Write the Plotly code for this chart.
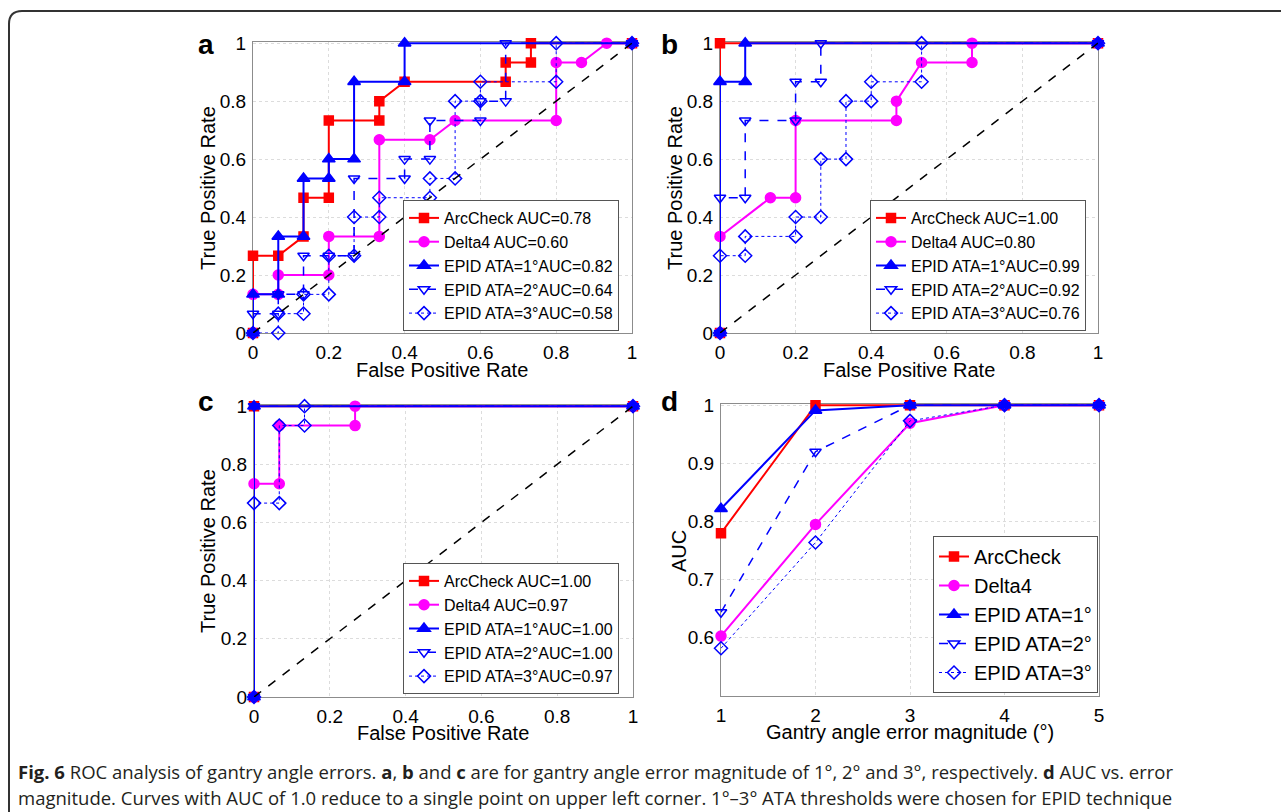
import plotly.graph_objects as go

W, H = 1281, 812

# ---------------- data ----------------
series_names = ["ArcCheck", "Delta4", "EPID ATA=1°", "EPID ATA=2°", "EPID ATA=3°"]

# Panel a (1° error) ROC points
a_arccheck_fpr = [0, 0, 0.0667, 0.1333, 0.1333, 0.2, 0.2, 0.3333, 0.3333, 0.4, 0.6667, 0.6667, 0.7333, 0.7333, 1]
a_arccheck_tpr = [0, 0.2667, 0.2667, 0.3333, 0.4667, 0.4667, 0.7333, 0.7333, 0.8, 0.8667, 0.8667, 0.9333, 0.9333, 1, 1]
a_delta4_fpr = [0, 0, 0.0667, 0.0667, 0.2, 0.2, 0.3333, 0.3333, 0.4667, 0.5333, 0.8, 0.8, 0.8667, 0.9333, 1]
a_delta4_tpr = [0, 0.1333, 0.1333, 0.2, 0.2, 0.3333, 0.3333, 0.6667, 0.6667, 0.7333, 0.7333, 0.9333, 0.9333, 1, 1]
a_epid1_fpr = [0, 0, 0.0667, 0.0667, 0.1333, 0.1333, 0.2, 0.2, 0.2667, 0.2667, 0.4, 0.4, 1]
a_epid1_tpr = [0, 0.1333, 0.1333, 0.3333, 0.3333, 0.5333, 0.5333, 0.6, 0.6, 0.8667, 0.8667, 1, 1]
a_epid2_fpr = [0, 0, 0.0667, 0.0667, 0.1333, 0.1333, 0.2, 0.2667, 0.2667, 0.4, 0.4, 0.4667, 0.4667, 0.6, 0.6, 0.6667, 0.6667, 1]
a_epid2_tpr = [0, 0.0667, 0.0667, 0.1333, 0.1333, 0.2667, 0.2667, 0.2667, 0.5333, 0.5333, 0.6, 0.6, 0.7333, 0.7333, 0.8, 0.8, 1, 1]
a_epid3_fpr = [0, 0.0667, 0.0667, 0.1333, 0.1333, 0.2, 0.2, 0.2667, 0.2667, 0.3333, 0.3333, 0.4667, 0.4667, 0.5333, 0.5333, 0.6, 0.6, 0.8, 0.8, 1]
a_epid3_tpr = [0, 0, 0.0667, 0.0667, 0.1333, 0.1333, 0.2667, 0.2667, 0.4, 0.4, 0.4667, 0.4667, 0.5333, 0.5333, 0.8, 0.8, 0.8667, 0.8667, 1, 1]
a_auc = ["0.78", "0.60", "0.82", "0.64", "0.58"]

# Panel b (2° error)
b_arccheck_fpr = [0, 0, 1]
b_arccheck_tpr = [0, 1, 1]
b_delta4_fpr = [0, 0, 0.1333, 0.2, 0.2, 0.4667, 0.4667, 0.5333, 0.6667, 0.6667, 1]
b_delta4_tpr = [0, 0.3333, 0.4667, 0.4667, 0.7333, 0.7333, 0.8, 0.9333, 0.9333, 1, 1]
b_epid1_fpr = [0, 0, 0.0667, 0.0667, 1]
b_epid1_tpr = [0, 0.8667, 0.8667, 1, 1]
b_epid2_fpr = [0, 0, 0.0667, 0.0667, 0.2, 0.2, 0.2667, 0.2667, 1]
b_epid2_tpr = [0, 0.4667, 0.4667, 0.7333, 0.7333, 0.8667, 0.8667, 1, 1]
b_epid3_fpr = [0, 0, 0.0667, 0.0667, 0.2, 0.2, 0.2667, 0.2667, 0.3333, 0.3333, 0.4, 0.4, 0.5333, 0.5333, 1]
b_epid3_tpr = [0, 0.2667, 0.2667, 0.3333, 0.3333, 0.4, 0.4, 0.6, 0.6, 0.8, 0.8, 0.8667, 0.8667, 1, 1]
b_auc = ["1.00", "0.80", "0.99", "0.92", "0.76"]

# Panel c (3° error)
c_arccheck_fpr = [0, 0, 1]
c_arccheck_tpr = [0, 1, 1]
c_delta4_fpr = [0, 0, 0.0667, 0.0667, 0.2667, 0.2667, 1]
c_delta4_tpr = [0, 0.7333, 0.7333, 0.9333, 0.9333, 1, 1]
c_epid1_fpr = [0, 0, 1]
c_epid1_tpr = [0, 1, 1]
c_epid2_fpr = [0, 0, 1]
c_epid2_tpr = [0, 1, 1]
c_epid3_fpr = [0, 0, 0.0667, 0.0667, 0.1333, 0.1333, 1]
c_epid3_tpr = [0, 0.6667, 0.6667, 0.9333, 0.9333, 1, 1]
c_auc = ["1.00", "0.97", "1.00", "1.00", "0.97"]

# Panel d: AUC vs error magnitude
d_magnitude = [1, 2, 3, 4, 5]
d_arccheck_auc = [0.78, 1.0, 1.0, 1.0, 1.0]
d_delta4_auc = [0.603, 0.795, 0.969, 1.0, 1.0]
d_epid1_auc = [0.822, 0.991, 1.0, 1.0, 1.0]
d_epid2_auc = [0.644, 0.92, 1.0, 1.0, 1.0]
d_epid3_auc = [0.582, 0.764, 0.973, 1.0, 1.0]

roc_ticks = [0, 0.2, 0.4, 0.6, 0.8, 1]
roc_ticktext = ["0", "0.2", "0.4", "0.6", "0.8", "1"]
auc_ticks = [0.6, 0.7, 0.8, 0.9, 1]
auc_ticktext = ["0.6", "0.7", "0.8", "0.9", "1"]

caption_line1 = ("<b>Fig. 6</b> ROC analysis of gantry angle errors. <b>a</b>, <b>b</b> and <b>c</b> are for gantry angle "
                 "error magnitude of 1°, 2° and 3°, respectively. <b>d</b> AUC vs. error")
caption_line2 = ("magnitude. Curves with AUC of 1.0 reduce to a single point on upper left corner. 1°–3° ATA "
                 "thresholds were chosen for EPID technique")

# ---------------- styles ----------------
styles = [
    dict(color="#ff0000", symbol="square", size=9, dash="solid", width=2),
    dict(color="#ff00ff", symbol="circle", size=10, dash="solid", width=2),
    dict(color="#0000ff", symbol="triangle-up", size=11, dash="solid", width=2),
    dict(color="#0000ff", symbol="triangle-down-open", size=10, dash="dash", width=1.5),
    dict(color="#0000ff", symbol="diamond-open", size=10, dash="dot", width=1),
]

def px(x):
    return x / W

def py(y):
    return 1 - y / H

fig = go.Figure()

panels = [
    ("x", "y", "legend", [(a_arccheck_fpr, a_arccheck_tpr), (a_delta4_fpr, a_delta4_tpr), (a_epid1_fpr, a_epid1_tpr),
                          (a_epid2_fpr, a_epid2_tpr), (a_epid3_fpr, a_epid3_tpr)], a_auc),
    ("x2", "y2", "legend2", [(b_arccheck_fpr, b_arccheck_tpr), (b_delta4_fpr, b_delta4_tpr), (b_epid1_fpr, b_epid1_tpr),
                             (b_epid2_fpr, b_epid2_tpr), (b_epid3_fpr, b_epid3_tpr)], b_auc),
    ("x3", "y3", "legend3", [(c_arccheck_fpr, c_arccheck_tpr), (c_delta4_fpr, c_delta4_tpr), (c_epid1_fpr, c_epid1_tpr),
                             (c_epid2_fpr, c_epid2_tpr), (c_epid3_fpr, c_epid3_tpr)], c_auc),
]

for xa, ya, lg, data, aucs in panels:
    for i, ((fx, ty), st) in enumerate(zip(data, styles)):
        lbl = series_names[i] + (" AUC=" if i < 2 else "AUC=") + aucs[i]
        fig.add_trace(go.Scatter(
            x=fx, y=ty, mode="lines+markers", name=lbl, xaxis=xa, yaxis=ya, legend=lg,
            line=dict(color=st["color"], dash=st["dash"], width=st["width"]),
            marker=dict(symbol=st["symbol"], size=st["size"], color=st["color"],
                        line=dict(color=st["color"], width=1.5)),
            cliponaxis=False,
        ))
    fig.add_trace(go.Scatter(
        x=[0, 1], y=[0, 1], mode="lines", xaxis=xa, yaxis=ya, showlegend=False,
        line=dict(color="black", dash="dash", width=1.5), cliponaxis=False,
    ))

d_series = [d_arccheck_auc, d_delta4_auc, d_epid1_auc, d_epid2_auc, d_epid3_auc]
for i, (vals, st) in enumerate(zip(d_series, styles)):
    fig.add_trace(go.Scatter(
        x=d_magnitude, y=vals, mode="lines+markers", name=series_names[i], xaxis="x4", yaxis="y4", legend="legend4",
        line=dict(color=st["color"], dash=st["dash"], width=st["width"]),
        marker=dict(symbol=st["symbol"], size=st["size"], color=st["color"],
                    line=dict(color=st["color"], width=1.5)),
        cliponaxis=False,
    ))

FONT = "Liberation Sans, Arial, sans-serif"
tickfont = dict(family=FONT, size=19, color="black")
axis_common = dict(showline=True, mirror=True, linecolor="#8c8c8c", linewidth=1,
                   showgrid=True, gridcolor="#dcdcdc", griddash="dot", gridwidth=1,
                   zeroline=False, ticks="", tickfont=tickfont, fixedrange=True,
                   automargin=False, ticklabelstandoff=2, layer="below traces")

domains = {
    "a": ([253, 632], [42, 333]),
    "b": ([720, 1098], [42, 333]),
    "c": ([254, 633], [405, 697]),
    "d": ([721, 1099], [404, 696]),
}

def dom(k):
    (x0, x1), (y0, y1) = domains[k]
    return [px(x0), px(x1)], [py(y1), py(y0)]

layout = dict(width=W, height=H, margin=dict(l=0, r=0, t=0, b=0, autoexpand=False),
              paper_bgcolor="white", plot_bgcolor="white", showlegend=True, template="none")

for idx, k in enumerate(["a", "b", "c", "d"]):
    sfx = "" if idx == 0 else str(idx + 1)
    xd, yd = dom(k)
    if k != "d":
        layout["xaxis" + sfx] = dict(axis_common, domain=xd, range=[0, 1], tickvals=roc_ticks, ticktext=roc_ticktext,
                                     anchor="y" + sfx)
        layout["yaxis" + sfx] = dict(axis_common, domain=yd, range=[0, 1.004], tickvals=roc_ticks,
                                     ticktext=roc_ticktext, anchor="x" + sfx)
    else:
        layout["xaxis" + sfx] = dict(axis_common, domain=xd, range=[1, 5], tickvals=d_magnitude,
                                     ticktext=[str(v) for v in d_magnitude], anchor="y" + sfx)
        layout["yaxis" + sfx] = dict(axis_common, domain=yd, range=[0.5, 1.002], tickvals=auc_ticks,
                                     ticktext=auc_ticktext, anchor="x" + sfx)

legend_common = dict(bgcolor="white", bordercolor="#555555", borderwidth=1, xanchor="left", yanchor="bottom",
                     font=dict(family=FONT, size=16, color="black"),
                     tracegroupgap=0, itemwidth=30)
layout["legend"] = dict(legend_common, x=px(403), y=py(331))
layout["legend2"] = dict(legend_common, x=px(870), y=py(331))
layout["legend3"] = dict(legend_common, x=px(403), y=py(694))
layout["legend4"] = dict(legend_common, x=px(933), y=py(693),
                         font=dict(family=FONT, size=20, color="black"))

fig.update_layout(**layout)

label_font = dict(family=FONT, size=20, color="black")
ann = []
for txt, x, y in [("a", 206, 45), ("b", 669, 45), ("c", 206, 401), ("d", 669, 401)]:
    ann.append(dict(text="<b>" + txt + "</b>", x=px(x), y=py(y), xref="paper", yref="paper", showarrow=False,
                    font=dict(family=FONT, size=28, color="black"),
                    xanchor="center", yanchor="middle"))
for txt, x, y in [("False Positive Rate", 442, 370), ("False Positive Rate", 909, 370),
                  ("False Positive Rate", 443, 733), ("Gantry angle error magnitude (°)", 910, 732)]:
    ann.append(dict(text=txt, x=px(x), y=py(y), xref="paper", yref="paper", showarrow=False, font=label_font,
                    xanchor="center", yanchor="middle"))
for txt, x, y in [("True Positive Rate", 208, 188), ("True Positive Rate", 675, 188),
                  ("True Positive Rate", 208, 551), ("AUC", 679, 551)]:
    ann.append(dict(text=txt, x=px(x), y=py(y), xref="paper", yref="paper", showarrow=False, font=label_font,
                    textangle=-90, xanchor="center", yanchor="middle"))

cap_font = dict(family="Open Sans, Noto Sans, sans-serif", size=18.5, color="#231f20")
ann.append(dict(text=caption_line1, x=px(16), y=py(771), xref="paper", yref="paper", showarrow=False,
                font=cap_font, xanchor="left", yanchor="middle", align="left"))
ann.append(dict(text=caption_line2, x=px(16), y=py(797), xref="paper", yref="paper", showarrow=False,
                font=cap_font, xanchor="left", yanchor="middle", align="left"))
fig.update_layout(annotations=ann)

# outer frame (top + left with rounded corner)
fig.add_shape(type="path", xref="paper", yref="paper",
              path=f"M {px(9)},{py(812)} L {px(9)},{py(24)} Q {px(9)},{py(11)} {px(22)},{py(11)} L {px(1281)},{py(11)}",
              line=dict(color="#333333", width=2))

fig.write_html("out.html", config={"displayModeBar": False},
               post_script="document.body.style.margin='0px';document.body.style.overflow='hidden';")
